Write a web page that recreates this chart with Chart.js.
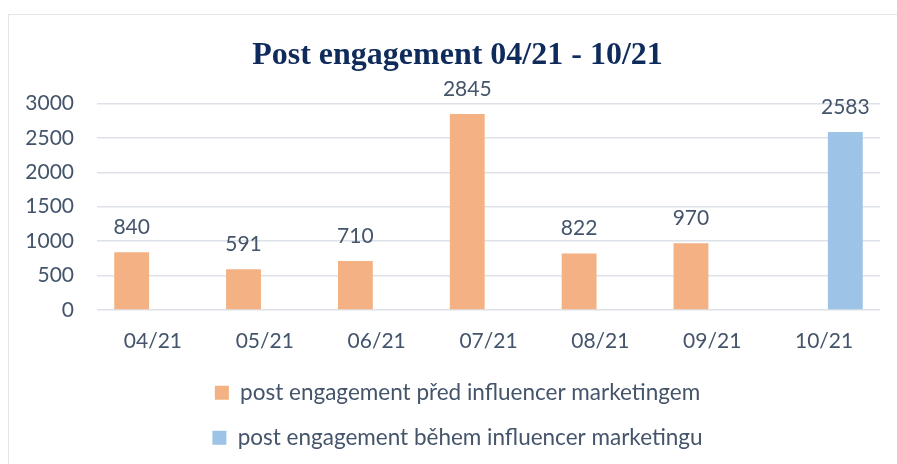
<!DOCTYPE html>
<html>
<head>
<meta charset="utf-8">
<script src="https://cdn.jsdelivr.net/npm/chart.js@4"></script>
<style>
html, body { margin: 0; padding: 0; background: #fff; overflow: hidden; }
#frame { position: absolute; left: 8px; top: 14px; width: 960px; height: 520px; border: 1px solid #e3e6ea; }
#wrap { position: absolute; left: 0; top: 0; width: 915px; height: 464px; }
</style>
</head>
<body>
<div id="frame"></div>
<div id="wrap"><canvas id="chart"></canvas></div>
<script>
// data
const months = ["04/21", "05/21", "06/21", "07/21", "08/21", "09/21", "10/21"];
const beforeInfluencer = [840, 591, 710, 2845, 822, 970, null];
const duringInfluencer = [null, null, null, null, null, null, 2583];
const yMax = 3000;
const yStep = 500;

const textColor = "#44546A";
const labelFont = "Lato";

// value labels above bars
const valueLabels = {
    id: "valueLabels",
    afterDatasetsDraw(chart) {
        const ctx = chart.ctx;
        ctx.save();
        ctx.font = "21px " + labelFont;
        ctx.fillStyle = textColor;
        ctx.textAlign = "center";
        ctx.textBaseline = "middle";
        chart.data.datasets.forEach((ds, i) => {
            chart.getDatasetMeta(i).data.forEach((bar, j) => {
                const v = ds.data[j];
                if (v == null) return;
                ctx.fillText(String(v), bar.x, bar.y - 25);
            });
        });
        ctx.restore();
    }
};

new Chart(document.getElementById("chart"), {
    type: "bar",
    data: {
        labels: months,
        datasets: [
            {
                label: "post engagement před influencer marketingem",
                data: beforeInfluencer,
                backgroundColor: "#F4B183"
            },
            {
                label: "post engagement během influencer marketingu",
                data: duringInfluencer,
                backgroundColor: "#9DC3E6"
            }
        ]
    },
    options: {
        responsive: true,
        maintainAspectRatio: false,
        animation: false,
        layout: { padding: { top: 0, right: 0, bottom: 5, left: 0 } },
        datasets: {
            bar: { categoryPercentage: 0.76, barPercentage: 0.82 }
        },
        scales: {
            x: {
                grid: { display: false, drawTicks: false },
                border: { display: false },
                ticks: { color: textColor, font: { family: labelFont, size: 21 }, padding: 19 },
                afterFit(scale) { scale.height = 49; }
            },
            y: {
                min: 0,
                max: yMax,
                ticks: {
                    stepSize: yStep,
                    color: textColor,
                    font: { family: labelFont, size: 21 },
                    padding: 23,
                    callback: (v) => String(v)
                },
                grid: { color: "#dde2e8", lineWidth: 1.5, drawTicks: false },
                border: { display: false },
                afterFit(scale) { scale.width = 97; }
            },
            // empty right-hand spacer, keeps title and legend centred on the wider frame
            spacer: {
                position: "right",
                min: 0,
                max: yMax,
                ticks: { display: false },
                grid: { display: false, drawTicks: false },
                border: { display: false },
                afterFit(scale) { scale.width = 35; }
            }
        },
        plugins: {
            title: {
                display: true,
                text: "Post engagement 04/21 - 10/21",
                color: "#0f2b5b",
                font: { family: "Liberation Serif", size: 32, weight: "bold" },
                padding: { top: 37, bottom: 28 }
            },
            legend: {
                position: "bottom",
                labels: {
                    color: textColor,
                    font: { family: labelFont, size: 22.5 },
                    boxWidth: 14,
                    boxHeight: 14,
                    padding: 22.5
                }
            },
            tooltip: { enabled: false }
        }
    },
    plugins: [valueLabels]
});
</script>
</body>
</html>
